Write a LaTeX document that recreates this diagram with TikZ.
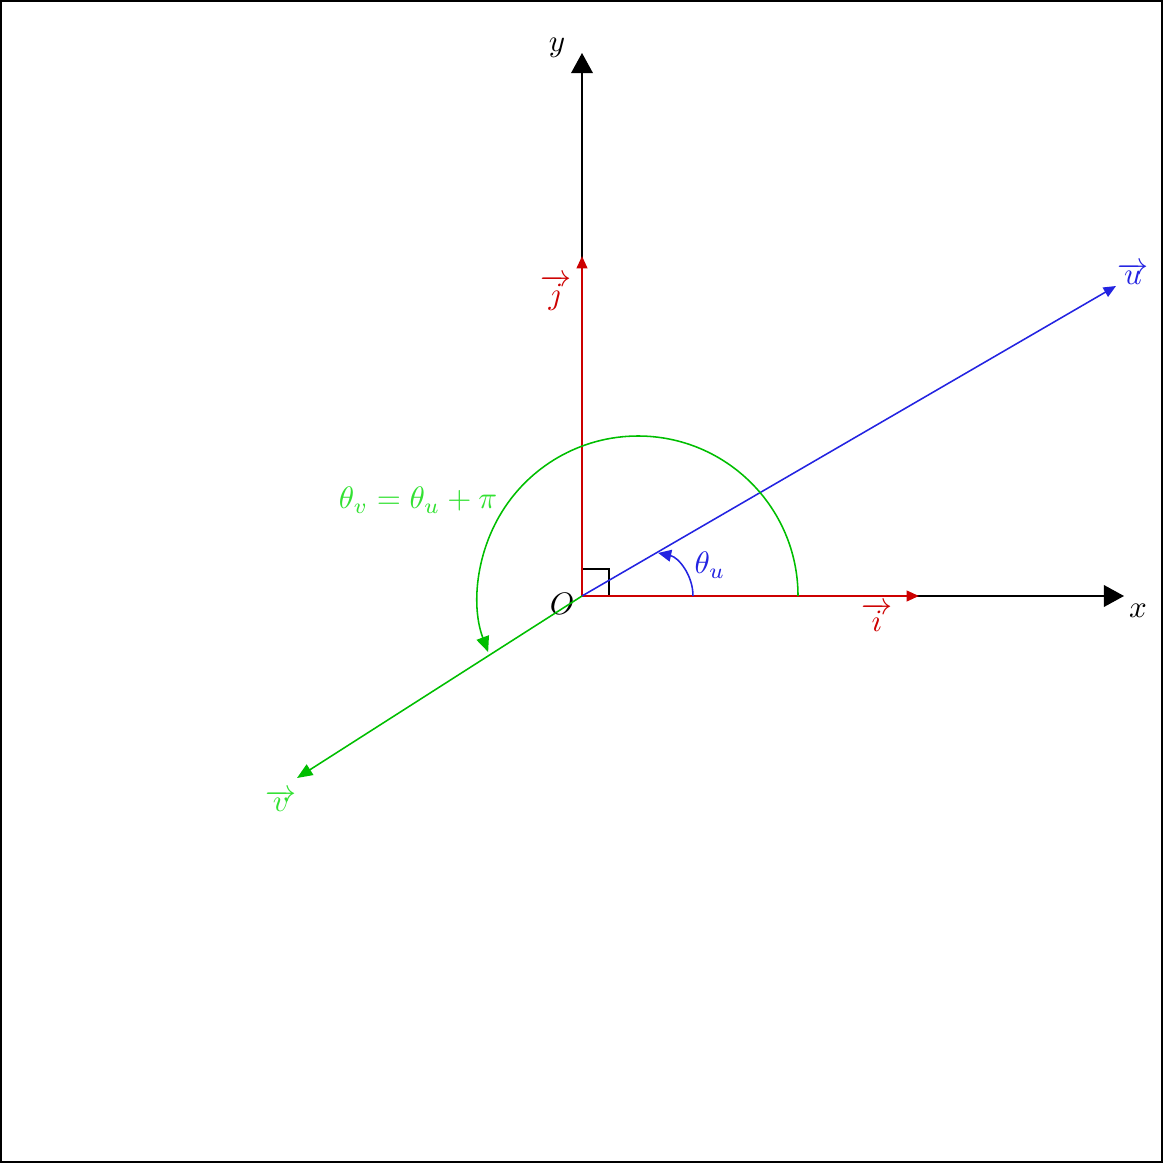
\documentclass[tikz,border=0pt]{standalone}
\usetikzlibrary{arrows.meta}
\definecolor{vred}{RGB}{205,0,0}
\definecolor{vblue}{RGB}{35,35,225}
\definecolor{vgreen}{RGB}{0,190,0}
\definecolor{tgreen}{RGB}{50,225,50}
\begin{document}
\begin{tikzpicture}[x=0.3224pt,y=0.3224pt,
  axis/.style={black,line width=0.5pt,-{Triangle[length=6.5pt,width=7pt]}},
  vecred/.style={vred,line width=0.8pt,-{Triangle[length=4pt,width=3.4pt]}},
  vecblue/.style={vblue,line width=0.5pt,-{Triangle[length=4pt,width=3.4pt]}},
  vecgreen/.style={vgreen,line width=0.5pt,-{Triangle[length=5pt,width=4pt]}},
  lbl/.style={inner sep=0pt}]
\useasboundingbox (0,0) rectangle (1163,-1163);
\draw[line width=0.65pt] (1,-1) rectangle (1162,-1162);
\coordinate (O) at (582,-596);
\coordinate (X) at (1124,-596);
\coordinate (Y) at (582,-53);
\coordinate (I) at (919,-596);
\coordinate (J) at (582,-256);
\coordinate (U) at (1116,-286);
\coordinate (V) at (297,-778);
% axes
\draw[axis] (O) -- (X);
\draw[axis] (O) -- (Y);
\node[lbl] (xl) at (1138,-611) {$x$};
\node[lbl] (yl) at (557,-48) {$y$};
\node[lbl] (Ol) at (562,-604) {$O$};
% right angle
\draw[black,line width=0.45pt] (582,-569) rectangle (609,-596);
% vectors
\draw[vecred] (O) -- (I);
\draw[vecred] (O) -- (J);
\draw[vecblue] (O) -- (U);
\draw[vecgreen] (O) -- (V);
\node[lbl,text=vred] (il) at (877,-617) {$\overrightarrow{i}$};
\node[lbl,text=vred] (jl) at (556,-293) {$\overrightarrow{j}$};
\node[lbl,text=vblue] (ul) at (1133,-274) {$\overrightarrow{u}$};
\node[lbl,text=tgreen] (vl) at (281,-801) {$\overrightarrow{v}$};
% angles
\draw[vblue,line width=0.5pt,-{Triangle[length=4.2pt,width=3.8pt]}] (693,-596) arc (0:78:44);
\node[lbl,text=vblue] (tu) at (710,-565) {$\theta_u$};
\draw[vgreen,line width=0.5pt,-{Triangle[length=5pt,width=4.2pt]}] (798,-596) arc (0:200.5:160);
\node[lbl,text=tgreen] (tv) at (418,-500) {$\theta_v=\theta_u+\pi$};
\end{tikzpicture}
\end{document}
